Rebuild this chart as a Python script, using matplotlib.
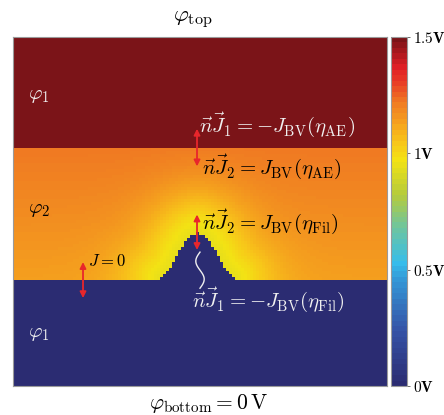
import numpy as np
import matplotlib
matplotlib.use("Agg")
import matplotlib.pyplot as plt
from matplotlib.colors import LinearSegmentedColormap, ListedColormap, Normalize
from matplotlib.cm import ScalarMappable

plt.rcParams["mathtext.fontset"] = "cm"
plt.rcParams["font.family"] = ["DejaVu Serif"]

# ---- simulation domain (grid cells) ----
nx, ny = 125, 116
y_electrode_top = 79      # interface between upper phi_1 region and electrolyte
y_electrode_bottom = 35   # interface between electrolyte and lower phi_1 region
fil_center = 61.5         # filament centre
fil_height = 15.6         # filament height above bottom electrode
fil_halfwidth = 14.0      # filament half width at its base

# ---- potentials (V) ----
phi_top = 1.5
phi_bottom = 0.0
phi_el_top = 1.23         # electrolyte potential near top electrode
phi_el_bottom = 1.14      # electrolyte potential near bottom electrode (far field)
phi_el_fil = 0.95         # electrolyte potential at filament surface
halo_len = 13.0           # decay length of filament influence

cbar_ticks = [0.0, 0.5, 1.0, 1.5]
cbar_labels = [r"$\mathbf{0V}$", r"$\mathbf{0.5V}$", r"$\mathbf{1V}$", r"$\mathbf{1.5V}$"]

# ---- colour map ----
cmap_pos = [0.0, 0.15, 0.30, 0.35, 0.45, 0.55, 0.65, 0.70, 0.76, 0.82, 0.88, 0.92, 1.0]
cmap_col = ["#2b2c72", "#3552a6", "#3496d6", "#36bdeb", "#6dc5a0", "#b5cb3c",
            "#f3e314", "#f8c61a", "#f5a01e", "#f07a23", "#e83a26", "#e01f26", "#7b1418"]
cmap = LinearSegmentedColormap.from_list("pot", list(zip(cmap_pos, cmap_col)))
cmap_steps = ListedColormap(cmap(np.linspace(0, 1, 64)))

# ---- build potential field ----
xc = np.arange(nx) + 0.5
yc = np.arange(ny) + 0.5
X, Y = np.meshgrid(xc, yc)
u = np.clip(np.abs(xc - fil_center) / fil_halfwidth, 0, 1)
surface = y_electrode_bottom + fil_height * 0.5 * (1 + np.cos(np.pi * u))
surface = np.round(surface)
SURF = np.broadcast_to(surface, X.shape)

V = np.zeros_like(X)
top_mask = Y >= y_electrode_top
metal_mask = Y < SURF
el_mask = ~top_mask & ~metal_mask

# distance from each electrolyte cell to the filament outline
bump = surface > y_electrode_bottom + 0.5
px = xc[bump]
py = surface[bump]
d = np.min(np.hypot(X[..., None] - px, Y[..., None] - py), axis=-1)
frac = (Y - y_electrode_bottom) / (y_electrode_top - y_electrode_bottom)
v_far = phi_el_bottom + (phi_el_top - phi_el_bottom) * frac
v_el = v_far - (v_far - phi_el_fil) * np.exp(-(d / halo_len) ** 1.6)

V[top_mask] = phi_top
V[metal_mask] = phi_bottom
V[el_mask] = v_el[el_mask]

# ---- figure ----
fig = plt.figure(figsize=(4.44, 4.15), dpi=100)
ax = fig.add_axes([13 / 444, 1 - 386 / 415, 374 / 444, 349 / 415])
ax.imshow(V, origin="lower", cmap=cmap, vmin=0, vmax=1.5,
          extent=[0, nx, 0, ny], interpolation="nearest", aspect="auto")
ax.set_xticks([])
ax.set_yticks([])
for s in ax.spines.values():
    s.set_edgecolor("#9a9a9a")
    s.set_linewidth(0.8)

cax = fig.add_axes([391 / 444, 1 - 386 / 415, 16 / 444, 349 / 415])
sm = ScalarMappable(norm=Normalize(0, 1.5), cmap=cmap_steps)
cb = fig.colorbar(sm, cax=cax, ticks=cbar_ticks)
cb.ax.set_yticklabels(cbar_labels, fontsize=11)
cb.ax.tick_params(length=2, width=0.6, pad=2, color="#555555")
cb.outline.set_edgecolor("#9a9a9a")
cb.outline.set_linewidth(0.8)

fs = 15
white = "#f0f0f0"
ax.text(5.0, 96.7, r"$\varphi_1$", color=white, fontsize=fs, va="center")
ax.text(5.0, 58.5, r"$\varphi_2$", color="black", fontsize=fs, va="center")
ax.text(5.0, 17.6, r"$\varphi_1$", color=white, fontsize=fs, va="center")

ax.text(62.3, 87.0, r"$\vec{n}\vec{J}_1 = -J_{\rm BV}(\eta_{\rm AE})$", color=white, fontsize=fs, va="center")
ax.text(63.3, 73.0, r"$\vec{n}\vec{J}_2 = J_{\rm BV}(\eta_{\rm AE})$", color="black", fontsize=fs, va="center")
ax.text(63.3, 54.5, r"$\vec{n}\vec{J}_2 = J_{\rm BV}(\eta_{\rm Fil})$", color="black", fontsize=fs, va="center")
ax.text(25.0, 41.5, r"$J = 0$", color="black", fontsize=12, va="center")
ax.text(59.7, 28.6, r"$\vec{n}\vec{J}_1 = -J_{\rm BV}(\eta_{\rm Fil})$", color=white, fontsize=fs, va="center")

arrow = dict(arrowstyle="<|-|>", color="#e8262b", lw=1.3, mutation_scale=9, shrinkA=0, shrinkB=0)
peak_y = surface.max()
ax.annotate("", xy=(fil_center, y_electrode_top + 6.5), xytext=(fil_center, y_electrode_top - 6.0), arrowprops=arrow)
ax.annotate("", xy=(fil_center, peak_y + 6.0), xytext=(fil_center, peak_y - 5.8), arrowprops=arrow)
ax.annotate("", xy=(23.4, y_electrode_bottom + 6.2), xytext=(23.4, y_electrode_bottom - 5.8), arrowprops=arrow)

# wavy marker pointing at the filament surface
t = np.linspace(0, 1, 60)
wx = fil_center + 1.0 - 1.4 * np.sin(2 * np.pi * t)
wy = peak_y - 6.5 - 12.0 * t
ax.plot(wx, wy, color=white, lw=1.0)

ax.set_xlim(0, nx)
ax.set_ylim(0, ny)

fig.text(193 / 444, 1 - 20 / 415, r"$\varphi_{\rm top}$", fontsize=16.5, ha="center", va="center")
fig.text(209 / 444, 1 - 403 / 415, r"$\varphi_{\rm bottom} = 0\,{\rm V}$", fontsize=15.5, ha="center", va="center")

fig.savefig("out.png", dpi=100, facecolor="white")
